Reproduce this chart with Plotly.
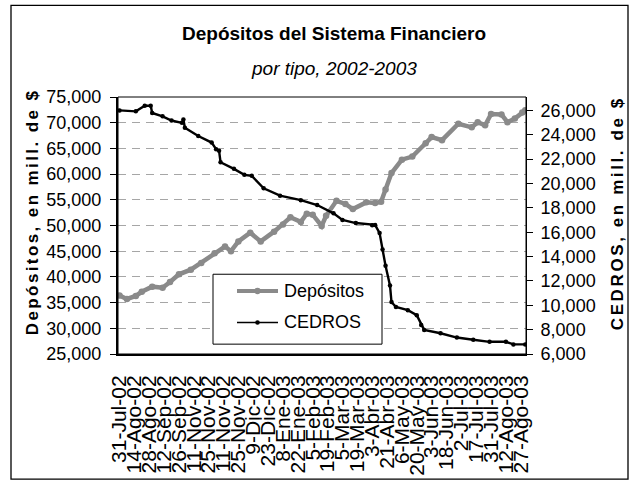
import plotly.graph_objects as go

# Business-day index (a tick label every 10 days)
tick_labels = ["31-Jul-02", "14-Ago-02", "28-Ago-02", "12-Sep-02", "26-Sep-02",
               "11-Nov-02", "25-Nov-02", "11-Nov-02", "25-Nov-02", "9-Dic-02",
               "23-Dic-02", "8-Ene-03", "22-Ene-03", "5-Feb-03", "19-Feb-03",
               "5-Mar-03", "19-Mar-03", "3-Abr-03", "21-Abr-03", "6-May-03",
               "20-May-03", "3-Jun-03", "18-Jun-03", "2-Jul-03", "17-Jul-03",
               "31-Jul-03", "12-Ago-03", "27-Ago-03"]
tick_days = [10 * i for i in range(len(tick_labels))]

dep_days = [0, 5, 11, 15, 22, 29, 34, 40, 48, 55, 64, 71, 75, 80, 88, 95, 104, 110,
            115, 122, 126, 130, 136, 139, 146, 152, 157, 166, 172, 176, 179, 183,
            190, 197, 206, 210, 217, 228, 237, 241, 246, 250, 257, 261, 266, 271, 273]
depositos = [36400, 35700, 36300, 37100, 38100, 37900, 39000, 40500, 41400, 42700,
             44600, 45900, 45000, 46900, 48600, 46900, 48800, 50200, 51600, 50700,
             52300, 52100, 49900, 51900, 54800, 54200, 53200, 54500, 54400, 54600,
             57000, 60200, 62800, 63400, 66000, 67200, 66600, 69800, 69100, 70100,
             69500, 71700, 71600, 70100, 70800, 72000, 72400]

ced_days = [0, 11, 17, 21, 22, 29, 35, 42, 43, 44, 53, 62, 65, 67, 68, 77, 84, 89,
            97, 108, 122, 133, 144, 150, 159, 170, 172, 175, 177, 179, 182, 183,
            186, 194, 200, 203, 205, 216, 227, 238, 249, 260, 265, 273]
cedros = [26000, 25920, 26380, 26380, 25790, 25510, 25170, 24980, 25250, 24580,
          23900, 23360, 22820, 22680, 21740, 21200, 20710, 20630, 19600, 19000,
          18630, 18230, 17550, 17010, 16750, 16580, 16600, 15930, 14580, 13240,
          11620, 10270, 9860, 9600, 9190, 8380, 7980, 7700, 7350, 7170, 7000,
          7000, 6790, 6790]

FONT = "Liberation Sans, Arial, sans-serif"
GRAY = "#8a8a8a"

fig = go.Figure()
fig.add_trace(go.Scatter(
    x=dep_days, y=depositos, name="Depósitos", mode="lines+markers",
    line=dict(color=GRAY, width=4.5),
    marker=dict(color=GRAY, size=6.5, symbol="circle"),
    showlegend=False,
))
fig.add_trace(go.Scatter(
    x=ced_days, y=cedros, name="CEDROS", mode="lines+markers", yaxis="y2",
    line=dict(color="black", width=2.4),
    marker=dict(color="black", size=4.5, symbol="circle"),
    showlegend=False,
))

L, R, T, B = 118, 526, 97, 358
W, H = 631, 488
pw, ph = R - L, B - T

def px(x):
    return (x - L) / pw

def py(y):
    return (B - y) / ph

def circ(cx, cy, r, color):
    return dict(type="circle", xref="paper", yref="paper",
                x0=px(cx - r), x1=px(cx + r), y0=py(cy + r), y1=py(cy - r),
                fillcolor=color, line=dict(color=color, width=0), layer="above")

# manual legend (box, samples, labels)
LX0, LX1, LY0, LY1 = 213, 382, 277, 348
ROW1, ROW2 = 294, 326
SX0, SX1, TX = 237, 278, 282

shapes = [
    dict(type="rect", xref="paper", yref="paper", x0=0, x1=1, y0=0, y1=1,
         line=dict(color="black", width=1), layer="above"),
    dict(type="rect", xref="paper", yref="paper",
         x0=px(11), x1=px(628), y0=py(485), y1=py(4),
         line=dict(color="black", width=1.3)),
    dict(type="rect", xref="paper", yref="paper",
         x0=px(LX0), x1=px(LX1), y0=py(LY1), y1=py(LY0),
         fillcolor="white", line=dict(color="black", width=1), layer="above"),
    dict(type="line", xref="paper", yref="paper", x0=px(SX0), x1=px(SX1),
         y0=py(ROW1), y1=py(ROW1), line=dict(color=GRAY, width=4), layer="above"),
    circ((SX0 + SX1) / 2, ROW1, 3.2, GRAY),
    dict(type="line", xref="paper", yref="paper", x0=px(SX0), x1=px(SX1),
         y0=py(ROW2), y1=py(ROW2), line=dict(color="black", width=1.5), layer="above"),
    circ((SX0 + SX1) / 2, ROW2, 2.3, "black"),
]

fig.update_layout(
    width=W, height=H,
    margin=dict(l=L, r=W - R, t=T, b=H - B, pad=0),
    paper_bgcolor="white", plot_bgcolor="white",
    font=dict(family=FONT, size=17, color="black"),
    showlegend=False,
    xaxis=dict(range=[-1, 273.5], tickvals=tick_days, ticktext=tick_labels,
               tickangle=-90, showgrid=False, zeroline=False, ticks="",
               showline=True, linecolor="black", linewidth=2,
               tickfont=dict(size=21, family=FONT), ticklabelstandoff=11),
    yaxis=dict(range=[25000, 75000], dtick=5000, tick0=25000, tickformat=",d",
               showgrid=True, gridcolor="#a6a6a6", griddash="8px,6px", gridwidth=1,
               zeroline=False, showline=True, linecolor="black", linewidth=2,
               ticks="outside", ticklen=6, tickcolor="black",
               tickfont=dict(size=18, family=FONT), ticklabelstandoff=5),
    yaxis2=dict(range=[6000, 27100], tickvals=list(range(6000, 26001, 2000)),
                tickformat=",d", overlaying="y", side="right", showgrid=False,
                zeroline=False, showline=True, linecolor="black", linewidth=1,
                ticks="outside", ticklen=6, tickcolor="black",
                tickfont=dict(size=18, family=FONT), ticklabelstandoff=4),
    shapes=shapes,
    annotations=[
        dict(text="<b>Depósitos del Sistema Financiero</b>", xref="paper", yref="paper",
             x=px(334), y=py(33), showarrow=False, font=dict(size=19, family=FONT),
             xanchor="center", yanchor="middle"),
        dict(text="<i>por tipo, 2002-2003</i>", xref="paper", yref="paper",
             x=px(334), y=py(68), showarrow=False, font=dict(size=19, family=FONT),
             xanchor="center", yanchor="middle"),
        dict(text="<span style='letter-spacing:2.4px'><b>Depósitos, en mill. de $</b></span>",
             xref="paper", yref="paper",
             x=px(32), y=py(214), showarrow=False, textangle=-90,
             font=dict(size=17, family=FONT), xanchor="center", yanchor="middle"),
        dict(text="<span style='letter-spacing:2.6px'><b>CEDROS, en mill. de $</b></span>",
             xref="paper", yref="paper",
             x=px(617), y=py(215), showarrow=False, textangle=-90,
             font=dict(size=17, family=FONT), xanchor="center", yanchor="middle"),
        dict(text="Depósitos", xref="paper", yref="paper", x=px(TX), y=py(ROW1),
             showarrow=False, xanchor="left", yanchor="middle",
             font=dict(size=18, family=FONT)),
        dict(text="CEDROS", xref="paper", yref="paper", x=px(TX), y=py(ROW2),
             showarrow=False, xanchor="left", yanchor="middle",
             font=dict(size=18, family=FONT)),
    ],
)

fig.write_html("out.html",
               config={"displayModeBar": False},
               post_script="document.body.style.margin='0';document.body.style.overflow='hidden';")
